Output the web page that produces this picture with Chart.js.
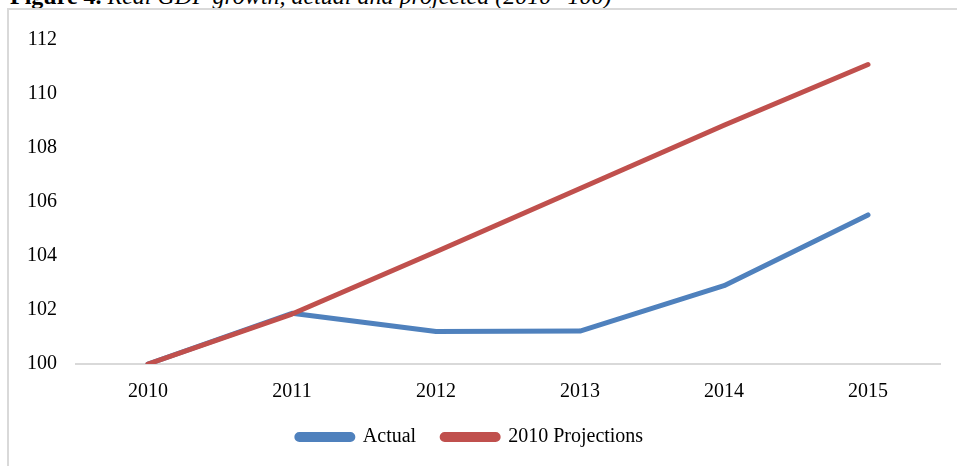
<!DOCTYPE html>
<html>
<head>
<meta charset="utf-8">
<script src="https://cdn.jsdelivr.net/npm/chart.js@4/dist/chart.umd.min.js"></script>
<style>
  html, body { margin: 0; padding: 0; background: #fff; overflow: hidden; }
  body { width: 957px; height: 466px; position: relative; }
  #caption {
    position: absolute; left: 10px; top: -16px; white-space: nowrap;
    font-family: "Liberation Serif", "Times New Roman", serif; font-size: 24px; line-height: 24px; color: #000;
  }
  #caption b { font-weight: bold; }
  #caption i { font-style: italic; }
  #frame {
    position: absolute; left: 7px; top: 8px; width: 980px; height: 480px;
    border: 2px solid #d9d9d9; box-sizing: border-box;
  }
  #wrap { position: absolute; left: 0; top: 0; width: 957px; height: 466px; }
</style>
</head>
<body>
<div id="caption"><b>Figure 4.</b> <i>Real GDP growth, actual and projected (2010=100)</i></div>
<div id="frame"></div>
<div id="wrap"><canvas id="c"></canvas></div>
<script>
// Real GDP index, 2010 = 100
const years = ['2010', '2011', '2012', '2013', '2014', '2015'];
const actual = [100, 101.88, 101.2, 101.22, 102.9, 105.52];
const projections2010 = [100, 101.85, 104.16, 106.5, 108.84, 111.09];
const yTicks = [100, 102, 104, 106, 108, 110, 112];

const serif = '"Liberation Serif", "Times New Roman", serif';

new Chart(document.getElementById('c'), {
  type: 'line',
  data: {
    labels: years,
    datasets: [
      {
        label: 'Actual',
        data: actual,
        order: 2,
        borderColor: '#4F81BD',
        backgroundColor: '#4F81BD',
        borderWidth: 5,
        borderCapStyle: 'round',
        borderJoinStyle: 'round',
        pointRadius: 0,
        tension: 0
      },
      {
        // drawn over the actual series
        label: '2010 Projections',
        data: projections2010,
        order: 1,
        borderColor: '#C0504D',
        backgroundColor: '#C0504D',
        borderWidth: 5,
        borderCapStyle: 'round',
        borderJoinStyle: 'round',
        pointRadius: 0,
        tension: 0
      }
    ]
  },
  options: {
    responsive: true,
    maintainAspectRatio: false,
    animation: false,
    layout: { padding: { left: 0, right: 17, top: 40, bottom: 9 } },
    plugins: {
      tooltip: { enabled: false },
      legend: {
        position: 'bottom',
        labels: {
          color: '#000',
          font: { family: serif, size: 20 },
          boxWidth: 56,
          boxHeight: 5,
          useBorderRadius: true,
          borderRadius: 2.5,
          padding: 26,
          sort: (a, b) => a.datasetIndex - b.datasetIndex
        }
      }
    },
    scales: {
      x: {
        type: 'category',
        offset: true,
        afterFit: (scale) => { scale.height = 37; },
        grid: { display: false, drawTicks: false },
        border: { display: true, color: '#d9d9d9', width: 2 },
        ticks: { color: '#000', font: { family: serif, size: 20 }, padding: 16, maxRotation: 0 }
      },
      y: {
        min: 100,
        max: 112,
        afterBuildTicks: (scale) => { scale.ticks = yTicks.map(v => ({ value: v })); },
        afterFit: (scale) => { scale.width = 76; },
        grid: { display: false, drawTicks: false },
        border: { display: false },
        ticks: { color: '#000', font: { family: serif, size: 20 }, padding: 19 }
      }
    }
  }
});
</script>
</body>
</html>
